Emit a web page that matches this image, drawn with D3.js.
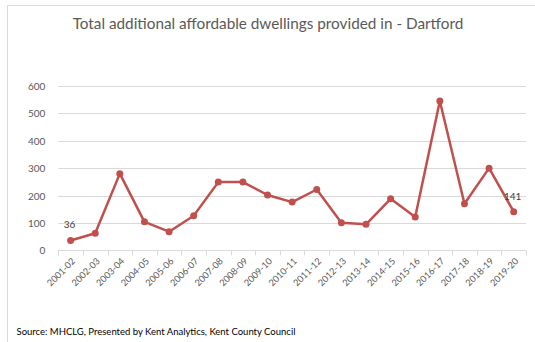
<!DOCTYPE html>
<html>
<head>
<meta charset="utf-8">
<script src="https://cdn.jsdelivr.net/npm/d3@7"></script>
<style>
  html, body { margin: 0; padding: 0; background: #fff; }
  svg { display: block; }
  text { font-family: Lato, "Open Sans", "Liberation Sans", sans-serif; }
</style>
</head>
<body>
<svg id="chart" width="535" height="342"></svg>
<script>
// Financial years and affordable dwellings delivered in Dartford
const years = ["2001-02","2002-03","2003-04","2004-05","2005-06","2006-07","2007-08","2008-09","2009-10","2010-11","2011-12","2012-13","2013-14","2014-15","2015-16","2016-17","2017-18","2018-19","2019-20"];
const dwellings = [36, 62, 280, 104, 68, 126, 249, 249, 202, 176, 222, 101, 95, 188, 122, 545, 170, 300, 141];
const yTicks = [0, 100, 200, 300, 400, 500, 600];
const labelledYears = ["2001-02", "2019-20"];

const svg = d3.select("#chart");
const W = 535, H = 342;
const plot = { left: 58.3, right: 526, top: 86, bottom: 250.3 };

// Chart frame
svg.append("rect")
  .attr("x", 7.5).attr("y", 5.5)
  .attr("width", W).attr("height", H)
  .attr("fill", "#fff").attr("stroke", "#d9d9d9").attr("stroke-width", 1);

// Title
svg.append("text")
  .attr("x", 268).attr("y", 28.5)
  .attr("text-anchor", "middle")
  .attr("font-size", 15.3)
  .attr("fill", "#595959")
  .text("Total additional affordable dwellings provided in - Dartford");

const x = d3.scaleBand().domain(years).range([plot.left, plot.right]).padding(0);
const y = d3.scaleLinear().domain([0, 600]).range([plot.bottom, plot.top]);

// Horizontal gridlines
svg.append("g")
  .selectAll("line")
  .data(yTicks.filter(d => d > 0))
  .join("line")
  .attr("x1", plot.left).attr("x2", plot.right)
  .attr("y1", d => Math.round(y(d)) + 0.5).attr("y2", d => Math.round(y(d)) + 0.5)
  .attr("stroke", "#d9d9d9").attr("stroke-width", 1);

// Y axis labels
const yAxis = d3.axisLeft(y).tickValues(yTicks).tickSize(0).tickPadding(0).tickFormat(d3.format("d"));
const gy = svg.append("g").attr("transform", `translate(${plot.left - 13},0)`).call(yAxis);
gy.select(".domain").remove();
gy.selectAll("text")
  .attr("font-size", 10)
  .attr("fill", "#595959")
  .attr("dy", "0.35em");

// Category axis with tick marks between categories
const tickPositions = years.map(d => x(d)).concat([plot.right]);
const axisY = Math.round(y(0)) + 0.5;
const gx = svg.append("g");
gx.append("line")
  .attr("x1", plot.left).attr("x2", plot.right)
  .attr("y1", axisY).attr("y2", axisY)
  .attr("stroke", "#d9d9d9");
gx.selectAll("line.tick")
  .data(tickPositions)
  .join("line")
  .attr("class", "tick")
  .attr("x1", d => Math.round(d) + 0.5).attr("x2", d => Math.round(d) + 0.5)
  .attr("y1", axisY).attr("y2", axisY + 5)
  .attr("stroke", "#d9d9d9");
gx.selectAll("text")
  .data(years)
  .join("text")
  .attr("transform", d => `translate(${x(d) + x.bandwidth() / 2 + 3},${axisY + 9}) rotate(-45)`)
  .attr("text-anchor", "end")
  .attr("dy", "0.35em")
  .attr("font-size", 9.2)
  .attr("fill", "#595959")
  .text(d => d);

// Series line
const cx = d => x(d) + x.bandwidth() / 2;
const line = d3.line()
  .x((d, i) => cx(years[i]))
  .y(d => y(d));
svg.append("path")
  .datum(dwellings)
  .attr("d", line)
  .attr("fill", "none")
  .attr("stroke", "#c0504d")
  .attr("stroke-width", 2.5)
  .attr("stroke-linejoin", "round");

// Markers
svg.append("g")
  .selectAll("circle")
  .data(dwellings)
  .join("circle")
  .attr("cx", (d, i) => cx(years[i]))
  .attr("cy", d => y(d))
  .attr("r", 3.5)
  .attr("fill", "#c0504d");

// Value labels for the first and last year
svg.append("g")
  .selectAll("text")
  .data(years.map((yr, i) => ({ yr, v: dwellings[i] })).filter(d => labelledYears.includes(d.yr)))
  .join("text")
  .attr("x", d => cx(d.yr) - 1)
  .attr("y", d => y(d.v) - 12)
  .attr("text-anchor", "middle")
  .attr("font-size", 10)
  .attr("fill", "#404040")
  .text(d => d.v);

// Source note
svg.append("text")
  .attr("x", 16.5).attr("y", 335)
  .attr("font-size", 9.5)
  .attr("fill", "#000")
  .text("Source: MHCLG, Presented by Kent Analytics, Kent County Council");
</script>
</body>
</html>
